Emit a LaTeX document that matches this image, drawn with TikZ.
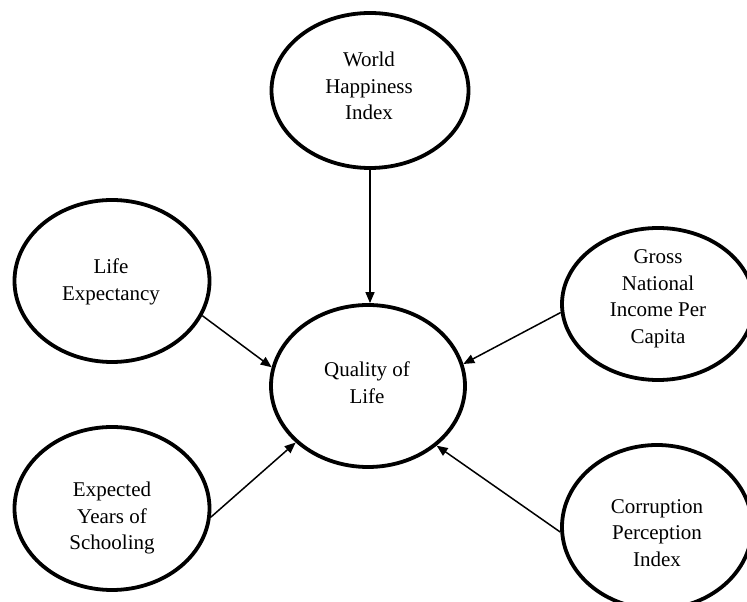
\documentclass[tikz,border=0pt]{standalone}
\usepackage{fontspec}
\setmainfont{Liberation Serif}
\usetikzlibrary{shapes.geometric,arrows.meta}

\begin{document}
\begin{tikzpicture}[x=1pt,y=1pt,
  bubble/.style={ellipse, draw=black, line width=3.8pt, inner sep=0pt},
  caption/.style={align=center, inner sep=0pt, font=\fontsize{21}{26.5}\selectfont},
  arr/.style={draw=black, line width=1.5pt, -{Triangle[length=11pt,width=9pt]}}]

\useasboundingbox (0,0) rectangle (747,602);
\fill[white] (0,0) rectangle (747,602);
\clip (0,0) rectangle (747,602);

% outer factors and the central outcome
\node[bubble, minimum width=197pt, minimum height=155pt] (wh) at (370,511.5) {};
\node[bubble, minimum width=194pt, minimum height=162pt] (ql) at (368,216) {};
\node[bubble, minimum width=195pt, minimum height=162pt] (le) at (112,321) {};
\node[bubble, minimum width=195pt, minimum height=163pt] (ey) at (112,93.5) {};
\node[bubble, minimum width=192pt, minimum height=152pt] (gn) at (658,298) {};
\node[bubble, minimum width=190pt, minimum height=164pt] (cp) at (657,75) {};

% labels
\node[caption] (wh-t) at (369,516) {World\\Happiness\\Index};
\node[caption] (ql-t) at (367,219.5) {Quality of\\Life};
\node[caption] (le-t) at (111,320) {Life\\Expectancy};
\node[caption] (ey-t) at (112,84) {Expected\\Years of\\Schooling};
\node[caption] (gn-t) at (658,303) {Gross\\National\\Income Per\\Capita};
\node[caption] (cp-t) at (657,69) {Corruption\\Perception\\Index};

% influences
\draw[arr] (wh.south) -- (wh.south |- ql.north);
\draw[arr] (le.-21.8) -- (ql.169.5);
\draw[arr] (gn.-175.2) -- (ql.13.9);
\draw[arr] (ey.-5.5) -- (ql.-142.5);
\draw[arr] (cp.-177) -- (ql.-41.4);
\end{tikzpicture}
\end{document}
